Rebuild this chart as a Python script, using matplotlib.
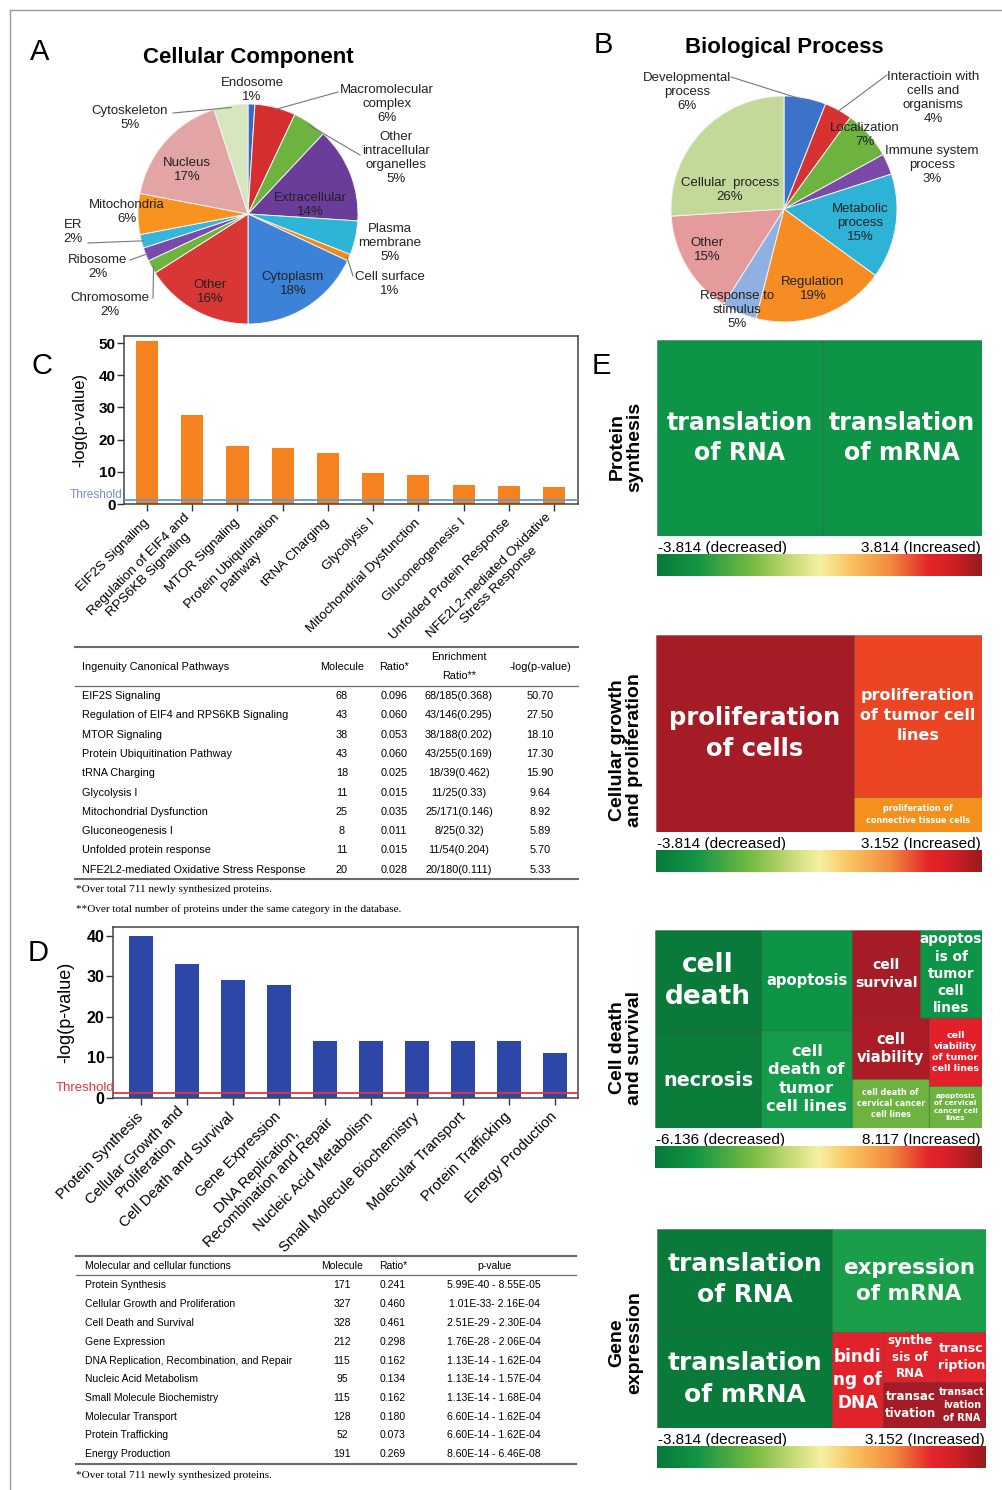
import numpy as np
import matplotlib
matplotlib.use("Agg")
import matplotlib.pyplot as plt
import matplotlib.transforms as mtransforms
from matplotlib.colors import LinearSegmentedColormap
from matplotlib.patches import Rectangle

W, H = 1002, 1490
plt.rcParams['font.family'] = ['Liberation Sans', 'DejaVu Sans']

# ---------------- data ----------------
cc_names = ["Endosome", "Macromolecular\ncomplex", "Other\nintracellular\norganelles",
            "Extracellular", "Plasma\nmembrane", "Cell surface", "Cytoplasm", "Other",
            "Chromosome", "Ribosome", "ER", "Mitochondria", "Nucleus", "Cytoskeleton"]
cc_pct = [1, 6, 5, 14, 5, 1, 18, 16, 2, 2, 2, 6, 17, 5]

bp_names = ["Developmental\nprocess", "Interactioin with\ncells and\norganisms", "Localization",
            "Immune system\nprocess", "Metabolic\nprocess", "Regulation", "Response to\nstimulus",
            "Other", "Cellular  process"]
bp_pct = [6, 4, 7, 3, 15, 19, 5, 15, 26]

path_names = ["EIF2S Signaling", "Regulation of EIF4 and RPS6KB Signaling", "MTOR Signaling",
              "Protein Ubiquitination Pathway", "tRNA Charging", "Glycolysis I",
              "Mitochondrial Dysfunction", "Gluconeogenesis I", "Unfolded protein response",
              "NFE2L2-mediated Oxidative Stress Response"]
path_ticks = ["EIF2S Signaling", "Regulation of EIF4 and\nRPS6KB Signaling", "MTOR Signaling",
              "Protein Ubiquitination\nPathway", "tRNA Charging", "Glycolysis I",
              "Mitochondrial Dysfunction", "Gluconeogenesis I", "Unfolded Protein Response",
              "NFE2L2-mediated Oxidative\nStress Response"]
path_molecule = [68, 43, 38, 43, 18, 11, 25, 8, 11, 20]
path_ratio = [0.096, 0.060, 0.053, 0.060, 0.025, 0.015, 0.035, 0.011, 0.015, 0.028]
path_enrich = ["68/185(0.368)", "43/146(0.295)", "38/188(0.202)", "43/255(0.169)",
               "18/39(0.462)", "11/25(0.33)", "25/171(0.146)", "8/25(0.32)",
               "11/54(0.204)", "20/180(0.111)"]
path_logp = [50.70, 27.50, 18.10, 17.30, 15.90, 9.64, 8.92, 5.89, 5.70, 5.33]

func_names = ["Protein Synthesis", "Cellular Growth and Proliferation", "Cell Death and Survival",
              "Gene Expression", "DNA Replication, Recombination, and Repair",
              "Nucleic Acid Metabolism", "Small Molecule Biochemistry", "Molecular Transport",
              "Protein Trafficking", "Energy Production"]
func_ticks = ["Protein Synthesis", "Cellular Growth and\nProliferation", "Cell Death and Survival",
              "Gene Expression", "DNA Replication,\nRecombination and Repair",
              "Nucleic Acid Metabolism", "Small Molecule Biochemistry", "Molecular Transport",
              "Protein Trafficking", "Energy Production"]
func_logp = [40, 33, 29, 28, 14, 14, 14, 14, 14, 11]
func_molecule = [171, 327, 328, 212, 115, 95, 115, 128, 52, 191]
func_ratio = [0.241, 0.460, 0.461, 0.298, 0.162, 0.134, 0.162, 0.180, 0.073, 0.269]
func_pvalue = ["5.99E-40 - 8.55E-05", "1.01E-33- 2.16E-04", "2.51E-29 - 2.30E-04",
               "1.76E-28 - 2.06E-04", "1.13E-14 - 1.62E-04", "1.13E-14 - 1.57E-04",
               "1.13E-14 - 1.68E-04", "6.60E-14 - 1.62E-04", "6.60E-14 - 1.62E-04",
               "8.60E-14 - 6.46E-08"]
threshold = 1.3

# treemaps: leaf labels, leaf areas and split structure
tm_titles = ["Protein\nsynthesis", "Cellular growth\nand proliferation",
             "Cell death\nand survival", "Gene\nexpression"]
tm_ranges = [(-3.814, 3.814), (-3.814, 3.152), (-6.136, 8.117), (-3.814, 3.152)]

tm1_labels = ["translation\nof RNA", "translation\nof mRNA"]
tm1_sizes = [50.8, 49.2]
tm1_tree = ('h', [0, 1])

tm2_labels = ["proliferation\nof cells", "proliferation\nof tumor cell\nlines",
              "proliferation of\nconnective tissue cells"]
tm2_sizes = [60.7, 32.3, 7.0]
tm2_tree = ('h', [0, ('v', [1, 2])])

tm3_labels = ["cell\ndeath", "necrosis", "apoptosis", "cell\ndeath of\ntumor\ncell lines",
              "cell\nsurvival", "apoptos\nis of\ntumor\ncell\nlines", "cell\nviability",
              "cell death of\ncervical cancer\ncell lines", "cell\nviability\nof tumor\ncell lines",
              "apoptosis\nof cervical\ncancer cell\nlines"]
tm3_sizes = [16.9, 15.6, 14.1, 13.8, 9.2, 8.4, 7.3, 5.8, 5.6, 3.4]
tm3_tree = ('h', [('v', [0, 1]), ('v', [2, 3]),
                  ('v', [('h', [4, 5]), ('h', [('v', [6, 7]), ('v', [8, 9])])])])

tm4_labels = ["translation\nof RNA", "translation\nof mRNA", "expression\nof mRNA",
              "bindi\nng of\nDNA", "synthe\nsis of\nRNA", "transc\nription",
              "transac\ntivation", "transact\nivation\nof RNA"]
tm4_sizes = [27.0, 26.2, 24.2, 7.5, 4.1, 3.7, 3.8, 3.4]
tm4_tree = ('h', [('v', [0, 1]), ('v', [2, ('h', [3, ('v', [('h', [4, 5]), ('h', [6, 7])])])])])

# ---------------- styles ----------------
cc_colors = ['#2f6cc6', '#d42e2e', '#6db33f', '#6a3d9a', '#2cb5d6', '#f18a1c', '#3c82d8',
             '#d93636', '#6cb43c', '#7a4aa8', '#35b6da', '#f7931e', '#e3a4a6', '#d6e7bf']
bp_colors = ['#3a73c9', '#d63232', '#6db33f', '#7b4aa8', '#2eb2d6', '#f58d22', '#8fb0e0',
             '#e59a9c', '#c3d99a']
tm1_colors = ['#0d9446', '#0d9446']
tm2_colors = ['#a61c26', '#ec4524', '#f5901e']
tm3_colors = ['#0a7a3a', '#0b7d3b', '#0e9446', '#149c4a', '#a61c26', '#0e9446', '#ab1c27',
              '#6cb43f', '#e2202a', '#6cb43f']
tm4_colors = ['#0a7a3a', '#0a7a3a', '#1a9e4a', '#e2222a', '#e2222a', '#e2222a', '#a61c26',
              '#a61c26']
tm1_fs = [17, 17]
tm2_fs = [17.5, 11.5, 5.9]
tm3_fs = [19, 13.8, 10.6, 11.6, 10.1, 9.8, 10.6, 5.8, 6.8, 5.2]
tm4_fs = [17.9, 17.9, 15.5, 12.2, 8.6, 9.1, 8.5, 7]
tm_linespacing = [1.27, 1.42, 1.3, 1.38]

ipa_cmap = LinearSegmentedColormap.from_list('ipa', [
    (0.0, '#077a3a'), (0.12, '#129445'), (0.3, '#7cbd43'), (0.42, '#c9dc7a'),
    (0.5, '#f7f0a4'), (0.6, '#f9c25e'), (0.72, '#f28a3e'), (0.84, '#e4242a'),
    (0.9, '#d61f26'), (1.0, '#981b1f')])


def rect(x0, y0, x1, y1):
    # pixel box (top-left origin) -> figure fraction
    return [x0 / W, 1 - y1 / H, (x1 - x0) / W, (y1 - y0) / H]


fig = plt.figure(figsize=(W / 100, H / 100), dpi=100)
ov = fig.add_axes([0, 0, 1, 1])
ov.set_xlim(0, W)
ov.set_ylim(H, 0)
ov.axis('off')

ov.plot([10, W], [10, 10], color='#999999', lw=1)
ov.plot([10, 10], [10, H], color='#999999', lw=1)

for letter, (lx, ly) in zip("ABCDE", [(40, 52), (603, 45), (42, 366), (38, 953), (601, 366)]):
    ov.text(lx, ly, letter, fontsize=21, ha='center', va='center')


# ---------------- pies ----------------
def pie_panel(cx, cy, R, pct, names, colors, label_px, leaders, title, title_y):
    ax = fig.add_axes(rect(cx - R, cy - R, cx + R, cy + R))
    wedges, _ = ax.pie(pct, colors=colors, startangle=90, counterclock=False,
                       wedgeprops=dict(edgecolor='#f2f2f2', linewidth=0.7))
    ax.set_xlim(-1, 1)
    ax.set_ylim(-1, 1)
    for i, (name, p) in enumerate(zip(names, pct)):
        lx, ly = label_px[i]
        ax.text((lx - cx) / R, (cy - ly) / R, f"{name}\n{p}%", ha='center', va='center',
                fontsize=9.5, color='#222222')
    for i, (sx, sy) in leaders.items():
        w = wedges[i]
        th = np.deg2rad((w.theta1 + w.theta2) / 2)
        ax.plot([(sx - cx) / R, np.cos(th) * 0.98], [(cy - sy) / R, np.sin(th) * 0.98],
                color='#777777', lw=0.8, clip_on=False)
    ov.text(cx, title_y, title, fontsize=16, fontweight='bold', ha='center', va='center')


cc_label_px = [(252, 90), (387, 104), (396, 158), (310, 205), (390, 243), (390, 284),
               (293, 284), (210, 292), (110, 305), (98, 267), (73, 232), (127, 212),
               (187, 170), (130, 118)]
cc_leaders = {1: (338, 92), 2: (360, 155), 5: (353, 276), 8: (153, 298), 9: (130, 260),
              10: (88, 243), 13: (173, 113)}
pie_panel(248, 214, 110, cc_pct, cc_names, cc_colors, cc_label_px, cc_leaders,
          "Cellular Component", 57)

bp_label_px = [(687, 92), (933, 98), (865, 135), (932, 165), (860, 223), (813, 289),
               (737, 310), (707, 250), (730, 190)]
bp_leaders = {0: (731, 77), 1: (887, 75)}
pie_panel(784, 209, 113, bp_pct, bp_names, bp_colors, bp_label_px, bp_leaders,
          "Biological Process", 48)


# ---------------- bar charts ----------------
def bar_panel(box, vals, ticks, color, bar_w, xlim, ylim, yticks, thr_color, thr_txt_color,
              tick_fs, ytick_fs, ylab_fs, thr_fs, thr_x, labelpad):
    ax = fig.add_axes(rect(*box))
    x = np.arange(len(vals))
    ax.bar(x, vals, width=bar_w, color=color, zorder=2)
    ax.axhline(threshold, color=thr_color, lw=1.3, zorder=3)
    ax.set_xlim(*xlim)
    ax.set_ylim(*ylim)
    ax.set_yticks(yticks)
    ax.set_xticks(x)
    ax.set_xticklabels(ticks, rotation=45, ha='right', va='center', rotation_mode='anchor',
                       multialignment='center', fontsize=tick_fs)
    for lab in ax.get_yticklabels():
        lab.set_fontweight('bold')
        lab.set_fontsize(ytick_fs)
    ax.tick_params(axis='y', length=5, width=1, pad=1, color='#333333')
    ax.tick_params(axis='x', length=5, width=1, pad=7, color='#333333')
    for s in ax.spines.values():
        s.set_color('#444444')
        s.set_linewidth(1.1)
    ax.set_ylabel("-log(p-value)", fontsize=ylab_fs, labelpad=labelpad)
    tr = mtransforms.blended_transform_factory(ax.transAxes, ax.transData)
    ax.text(thr_x, threshold * 0.8, "Threshold", transform=tr, ha='right', va='bottom',
            fontsize=thr_fs, color=thr_txt_color)
    return ax


bar_panel((124, 336, 578, 504), path_logp, path_ticks, '#f5821f', 0.49, (-0.51, 9.53),
          (0, 52.2), [0, 10, 20, 30, 40, 50], '#5b9bd5', '#7b8bc4', 9.7, 11, 12, 8.6, -0.004, 8)
bar_panel((113, 927, 578, 1098), func_logp, func_ticks, '#2c47a7', 0.52, (-0.6, 9.5),
          (0, 42.2), [0, 10, 20, 30, 40], '#e8333a', '#e8333a', 10.7, 11.5, 13, 9.5, 0.004, 9)


# ---------------- tables ----------------
def hline(y, x0, x1, lw):
    ov.plot([x0, x1], [y, y], color='#6a6a6a', lw=lw)


tfs = 7.8
hline(647, 75, 578, 1.5)
ov.text(82, 667, "Ingenuity Canonical Pathways", fontsize=tfs, va='center')
ov.text(342, 667, "Molecule", fontsize=tfs, ha='center', va='center')
ov.text(394, 667, "Ratio*", fontsize=tfs, ha='center', va='center')
ov.text(459, 657, "Enrichment", fontsize=tfs, ha='center', va='center')
ov.text(459, 676, "Ratio**", fontsize=tfs, ha='center', va='center')
ov.text(540, 667, "-log(p-value)", fontsize=tfs, ha='center', va='center')
hline(686, 75, 578, 0.9)
for i, y in enumerate(696 + 19.3 * np.arange(len(path_names))):
    ov.text(82, y, path_names[i], fontsize=tfs, va='center')
    ov.text(342, y, str(path_molecule[i]), fontsize=tfs, ha='center', va='center')
    ov.text(394, y, f"{path_ratio[i]:.3f}", fontsize=tfs, ha='center', va='center')
    ov.text(459, y, path_enrich[i], fontsize=tfs, ha='center', va='center')
    ov.text(540, y, f"{path_logp[i]:.2f}", fontsize=tfs, ha='center', va='center')
hline(879, 75, 578, 1.5)
ov.text(76, 890, "*Over total 711 newly synthesized proteins.", fontsize=8,
        family='Liberation Serif', va='center')
ov.text(76, 909, "**Over total number of proteins under the same category in the database.",
        fontsize=8, family='Liberation Serif', va='center')

tfs = 7.5
hline(1256, 76, 576, 1.5)
ov.text(85, 1266, "Molecular and cellular functions", fontsize=tfs, va='center')
ov.text(342, 1266, "Molecule", fontsize=tfs, ha='center', va='center')
ov.text(393, 1266, "Ratio*", fontsize=tfs, ha='center', va='center')
ov.text(494, 1266, "p-value", fontsize=tfs, ha='center', va='center')
hline(1275, 76, 576, 0.9)
for i, y in enumerate(1285.5 + 18.75 * np.arange(len(func_names))):
    ov.text(85, y, func_names[i], fontsize=tfs, va='center')
    ov.text(342, y, str(func_molecule[i]), fontsize=tfs, ha='center', va='center')
    ov.text(393, y, f"{func_ratio[i]:.3f}", fontsize=tfs, ha='center', va='center')
    ov.text(494, y, func_pvalue[i], fontsize=tfs, ha='center', va='center')
hline(1463.5, 76, 576, 1.5)
ov.text(76, 1475, "*Over total 711 newly synthesized proteins.", fontsize=8,
        family='Liberation Serif', va='center')


# ---------------- treemaps ----------------
def leaf_sum(node, sizes):
    if isinstance(node, int):
        return sizes[node]
    return sum(leaf_sum(k, sizes) for k in node[1])


def layout(node, sizes, x, y, w, h, out):
    if isinstance(node, int):
        out[node] = (x, y, w, h)
        return
    d, kids = node
    tot = leaf_sum(node, sizes)
    for k in kids:
        f = leaf_sum(k, sizes) / tot
        if d == 'h':
            layout(k, sizes, x, y, w * f, h, out)
            x += w * f
        else:
            layout(k, sizes, x, y, w, h * f, out)
            y += h * f


def treemap(box, labels, sizes, tree, colors, fsizes, title, title_y, rng, lsp):
    x0, y0, x1, y1 = box
    ax = fig.add_axes(rect(*box))
    ax.set_xlim(0, 1)
    ax.set_ylim(1, 0)
    ax.axis('off')
    cells = {}
    layout(tree, sizes, 0, 0, 1, 1, cells)
    for i, lab in enumerate(labels):
        cx, cy, cw, ch = cells[i]
        ax.add_patch(Rectangle((cx, cy), cw, ch, facecolor=colors[i],
                               edgecolor=(0, 0, 0, 0.22), lw=0.8))
        ax.text(cx + cw / 2, cy + ch / 2, lab, ha='center', va='center', color='white',
                fontsize=fsizes[i], fontweight='bold', family='DejaVu Sans', linespacing=lsp)
    ov.text(x0 + 1, y1 + 12, f"{rng[0]:.3f} (decreased)", fontsize=11, va='center')
    ov.text(x1 - 1, y1 + 12, f"{rng[1]:.3f} (Increased)", fontsize=11, va='center', ha='right')
    cax = fig.add_axes(rect(x0, y1 + 18, x1, y1 + 40))
    cax.imshow(np.linspace(0, 1, 256)[None, :], aspect='auto', cmap=ipa_cmap,
               extent=[0, 1, 0, 1])
    cax.axis('off')
    ov.text(626, title_y, title, rotation=90, fontsize=14, fontweight='bold',
            ha='center', va='center', linespacing=1.05)


treemap((657, 340, 982, 536), tm1_labels, tm1_sizes, tm1_tree, tm1_colors, tm1_fs,
        tm_titles[0], 447, tm_ranges[0], tm_linespacing[0])
treemap((656, 635, 982, 832), tm2_labels, tm2_sizes, tm2_tree, tm2_colors, tm2_fs,
        tm_titles[1], 750, tm_ranges[1], tm_linespacing[1])
treemap((655, 930, 982, 1128), tm3_labels, tm3_sizes, tm3_tree, tm3_colors, tm3_fs,
        tm_titles[2], 1048, tm_ranges[2], tm_linespacing[2])
treemap((657, 1229, 986, 1428), tm4_labels, tm4_sizes, tm4_tree, tm4_colors, tm4_fs,
        tm_titles[3], 1343, tm_ranges[3], tm_linespacing[3])

fig.savefig("out.png", dpi=100)
